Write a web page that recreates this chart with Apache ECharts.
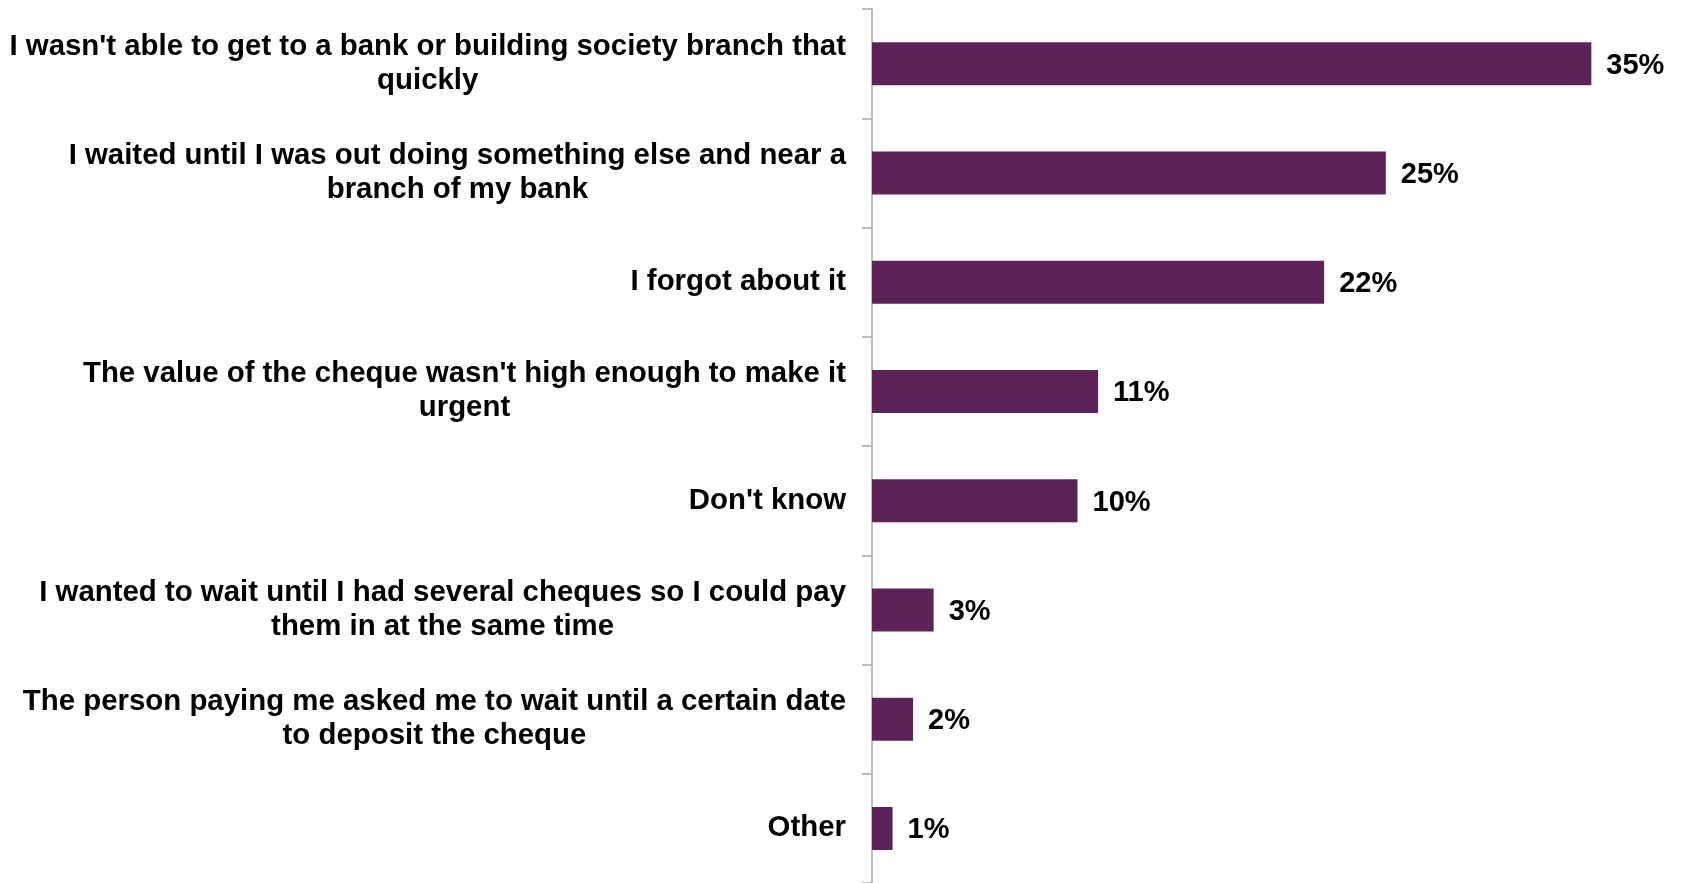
<!DOCTYPE html>
<html>
<head>
<meta charset="utf-8">
<script src="https://cdn.jsdelivr.net/npm/echarts@6/dist/echarts.min.js"></script>
<style>
  html, body { margin: 0; padding: 0; background: #ffffff; }
  #chart { width: 1681px; height: 883px; }
</style>
</head>
<body>
<div id="chart"></div>
<script>
// Reasons for not paying the cheque in straight away (% of respondents)
const categories = [
  "I wasn't able to get to a bank or building society branch that\nquickly",
  "I waited until I was out doing something else and near a\nbranch of my bank",
  "I forgot about it",
  "The value of the cheque wasn't high enough to make it\nurgent",
  "Don't know",
  "I wanted to wait until I had several cheques so I could pay\nthem in at the same time",
  "The person paying me asked me to wait until a certain date\nto deposit the cheque",
  "Other"
];
const values = [35, 25, 22, 11, 10, 3, 2, 1];

const FONT = 'Liberation Sans, Arial, sans-serif';
const chart = echarts.init(document.getElementById('chart'), null, { renderer: 'canvas' });

chart.setOption({
  animation: false,
  backgroundColor: '#ffffff',
  textStyle: { fontFamily: FONT },
  grid: { left: 872, right: 28, top: 9, bottom: -4, containLabel: false },
  xAxis: {
    type: 'value',
    min: 0,
    max: 38,
    show: false
  },
  yAxis: {
    type: 'category',
    data: categories,
    inverse: true,
    axisLine: { show: true, lineStyle: { color: '#a6a6a6', width: 1.5 } },
    axisTick: { show: true, length: 10, lineStyle: { color: '#a6a6a6', width: 1.5 } },
    axisLabel: {
      margin: 26,
      align: 'right',
      // each line is centred inside the right-aligned label block
      formatter: v => v.split('\n').map(l => '{c|' + l + '}').join('\n'),
      rich: {
        c: {
          align: 'center',
          color: '#000000',
          fontSize: 29.4,
          fontWeight: 'bold',
          fontFamily: FONT,
          lineHeight: 34
        }
      }
    },
    splitLine: { show: false }
  },
  series: [{
    type: 'bar',
    data: values,
    barWidth: 43,
    itemStyle: { color: '#5c2359' },
    label: {
      show: true,
      position: 'right',
      distance: 15,
      offset: [0, 2],
      formatter: p => p.value + '%',
      color: '#000000',
      fontSize: 29,
      fontWeight: 'bold',
      fontFamily: FONT
    }
  }]
});
</script>
</body>
</html>
